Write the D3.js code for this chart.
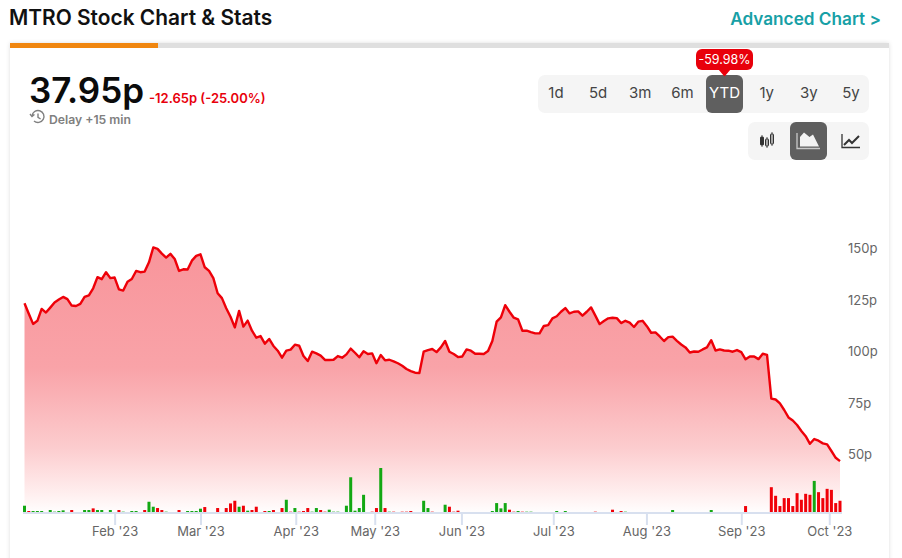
<!DOCTYPE html>
<html><head><meta charset="utf-8">
<script src="https://cdn.jsdelivr.net/npm/d3@7/dist/d3.min.js"></script>
<style>html,body{margin:0;padding:0;background:#fff}svg{display:block}text{font-family:Inter,Lato,sans-serif}</style>
</head><body><div id="c"></div>
<script>
const prices=[123.3,118.2,113.3,114.8,120.6,118.8,121.2,123.7,125.1,126.4,125.3,122.2,122,123,126.4,127.2,130.6,136,135,138.4,135.5,135.8,130.1,129.5,133.8,135.1,139,138.4,138.7,143.2,150.4,149.7,147.4,145.5,147.3,144.8,139,139.8,139.7,144,146.3,147.1,140.8,139,135.5,128.2,125.8,120.9,116.8,111.6,119.6,112,114.9,110,106.6,107.4,103.7,106,102.6,100.3,96.9,100.3,100.8,103.2,102.7,97.7,95.3,99.8,99,97.9,95.8,95.8,95.9,97.7,96.9,98.5,101.3,99.3,97.1,100,98.7,99,94.2,98.2,95.6,95.9,95.1,94.2,93,91.4,90.4,89.6,89.5,99.8,100.6,101.1,99.6,101.9,105,99.8,98.7,97.2,97.5,100.9,100.3,98.8,98.8,98.7,100.1,105,114.4,116.5,122.4,119.2,116.3,115.5,110,110,109.3,108.7,108.7,112.3,112.7,116,117,119.2,121,118.4,119.2,119.4,117.3,119.2,121.3,117.3,113.2,114.7,116,116.3,116.1,113.7,114.8,113.9,111.8,114.4,114.8,112.2,109,109.2,107.2,105,106.9,107.1,105.1,103.3,101.9,99.4,99.9,99.8,100.9,101.9,105.4,100.4,100.9,100.4,100.3,99.8,100.6,99.6,96.1,97.5,97.5,96.2,98.8,98.3,77,76.6,74.7,71.5,67.9,66.4,64.2,61.3,58.8,55.1,57.4,56.6,55.3,54.8,51.6,48.3,46.7];
// volume per session (relative units); sign: positive = up day (green), negative = down day (red), 0 = no bar
const volumes=[22,-6,6,6,6,-3,9,4,6,8,-3,-9,0,-3,9,9,-14,9,9,3,9,0,-9,4,3,6,6,3,-9,34,19,-15,-9,4,3,3,-9,0,6,6,6,13,-18,-3,-3,-15,-3,-15,-29,-37,19,-22,7,-9,-19,0,-6,6,-9,0,-15,40,-4,15,-4,-6,-15,4,15,-9,-4,10,4,4,0,22,108,7,15,55,0,-4,-15,136,-15,4,-4,0,-4,-4,-6,0,0,37,15,-4,3,3,25,-19,-4,-7,0,3,0,0,0,0,0,6,30,14,30,-10,-4,6,-4,4,4,0,0,0,0,3,6,3,6,0,0,0,0,3,0,-4,0,0,0,-10,0,-6,4,0,-3,3,3,-3,0,3,0,0,3,9,0,0,0,0,0,0,0,0,9,-3,0,0,0,0,3,0,-21,0,0,3,0,3,-78,-52,-21,-45,-45,-21,-60,-40,-58,-55,97,-63,-45,-73,-70,-30,-37];
const monthLabels=["Feb '23","Mar '23","Apr '23","May '23","Jun '23","Jul '23","Aug '23","Sep '23","Oct '23"];
const monthIndex=[21,41,63.2,81.6,101.8,123.2,144.9,167,187.5];
const priceTicks=[50,75,100,125,150];
const ranges=["1d","5d","3m","6m","YTD","1y","3y","5y"];

const svg=d3.select("#c").append("svg").attr("width",902).attr("height",558);
const defs=svg.append("defs");
const grad=defs.append("linearGradient").attr("id","af").attr("gradientUnits","userSpaceOnUse").attr("x1",0).attr("x2",0).attr("y1",248).attr("y2",514);
[[0,"#f8959b"],[.45,"#f9a3a8"],[.75,"#fcccce"],[.93,"#fff0f0"],[1,"#ffffff"]].forEach(s=>grad.append("stop").attr("offset",s[0]).attr("stop-color",s[1]));
const sh=defs.append("filter").attr("id","sh").attr("x","-3%").attr("y","-3%").attr("width","106%").attr("height","106%");
sh.append("feDropShadow").attr("dx",0).attr("dy",0).attr("stdDeviation",2.2).attr("flood-color","#000").attr("flood-opacity",.13);

svg.append("text").attr("x",9).attr("y",25).attr("font-size",20.9).attr("font-weight",600).attr("fill","#111").text("MTRO Stock Chart & Stats");
svg.append("text").attr("x",881).attr("y",25).attr("text-anchor","end").attr("font-size",17.2).attr("font-weight",600).attr("fill","#17a0a6").text("Advanced Chart >");

svg.append("rect").attr("x",10).attr("y",43).attr("width",879).attr("height",530).attr("fill","#fff").attr("filter","url(#sh)");
svg.append("rect").attr("x",10).attr("y",43).attr("width",879).attr("height",5).attr("fill","#dfdfdf");
svg.append("rect").attr("x",10).attr("y",43).attr("width",148).attr("height",5).attr("fill","#f0860f");

svg.append("text").attr("x",29).attr("y",103).attr("font-size",35).attr("font-weight",600).attr("fill","#0b0b0b").text("37.95p");
svg.append("text").attr("x",149).attr("y",103).attr("font-size",13).attr("font-weight",600).attr("fill","#e8000b").text("-12.65p (-25.00%)");
svg.append("text").attr("x",49).attr("y",124).attr("font-size",12.2).attr("font-weight",600).attr("fill","#808080").text("Delay +15 min");
const clock=svg.append("g").attr("transform","translate(38,117)").attr("fill","none").attr("stroke","#808080").attr("stroke-width",1.4);
clock.append("path").attr("d","M-6 -1 A6 6 0 1 1 -4 4");
clock.append("path").attr("d","M-8 -3 L-6 -0.5 L-3.6 -2.6");
clock.append("path").attr("d","M0 -3.5 V0.3 L2.6 2");

// range pills
svg.append("rect").attr("x",538).attr("y",75).attr("width",331).attr("height",38).attr("rx",7).attr("fill","#f5f5f5");
svg.append("rect").attr("x",706).attr("y",75).attr("width",37).attr("height",38).attr("rx",6).attr("fill","#5f5f5f");
const rangeX=d3.scalePoint().domain(ranges).range([556,851]);
svg.selectAll(".rg").data(ranges).join("text").attr("class","rg").attr("x",d=>rangeX(d)).attr("y",98).attr("text-anchor","middle")
  .attr("font-size",15).attr("fill",d=>d==="YTD"?"#fff":"#444").text(d=>d);
svg.append("path").attr("d","M718 69 L724.5 76.5 L731 69 Z").attr("fill","#e8000b");
svg.append("rect").attr("x",696).attr("y",49).attr("width",57).attr("height",21).attr("rx",6).attr("fill","#e8000b");
svg.append("text").attr("x",724.5).attr("y",64).attr("text-anchor","middle").attr("font-size",12.5).attr("fill","#fff").text("-59.98%");

// chart type pills
svg.append("rect").attr("x",748).attr("y",122).attr("width",121).attr("height",38).attr("rx",7).attr("fill","#f5f5f5");
svg.append("rect").attr("x",790).attr("y",122).attr("width",37).attr("height",38).attr("rx",6).attr("fill","#5f5f5f");
const cs=svg.append("g").attr("fill","#333").attr("stroke","#333");
[[762,137,8],[767,139,7],[772,134,10]].forEach((c,i)=>{
  cs.append("rect").attr("x",c[0]-1.5).attr("y",c[1]).attr("width",3).attr("height",c[2]).attr("rx",.6).attr("fill",i==0?"#333":"#f5f5f5").attr("stroke-width",1);
  cs.append("path").attr("d",`M${c[0]} ${c[1]-2} V${c[1]+c[2]+2}`).attr("stroke-width",.8);
});
svg.append("path").attr("d","M797 133 V148.5 H820").attr("fill","none").attr("stroke","#c8c8c8").attr("stroke-width",1.3);
svg.append("path").attr("d","M800 146.5 V137 L804 132.5 L809.5 137 L813 134.5 L819 146.5 Z").attr("fill","#f3f3f3");
svg.append("path").attr("d","M842 134 V147.5 H860").attr("fill","none").attr("stroke","#333").attr("stroke-width",1.3);
svg.append("path").attr("d","M844 145 L849 140 L852 143 L859 136").attr("fill","none").attr("stroke","#333").attr("stroke-width",2);

// chart
const x=d3.scaleLinear().domain([0,prices.length-1]).range([24.5,840]);
const y=d3.scaleLinear().domain([50,150]).range([454.3,248.3]);
const baseY=513;
const vy=d3.scaleLinear().domain([0,136]).range([baseY,468]);
const area=d3.area().x((d,i)=>x(i)).y0(baseY).y1(d=>y(d));
const line=d3.line().x((d,i)=>x(i)).y(d=>y(d));
svg.append("path").datum(prices).attr("d",area).attr("fill","url(#af)");
svg.append("path").datum(prices).attr("d",line).attr("fill","none").attr("stroke","#ee0009").attr("stroke-width",2.4).attr("stroke-linejoin","round");

svg.selectAll(".v").data(volumes.map((v,i)=>({v,i})).filter(d=>d.v!==0)).join("rect").attr("class","v")
  .attr("x",d=>x(d.i)-1.5).attr("width",3)
  .attr("y",d=>vy(Math.abs(d.v))).attr("height",d=>baseY-vy(Math.abs(d.v)))
  .attr("fill",d=>d.v>0?"#13a813":"#f00008");

const xAxis=d3.axisBottom(x).tickValues(monthIndex).tickFormat((d,i)=>monthLabels[i]).tickSize(12).tickPadding(2);
const gx=svg.append("g").attr("transform",`translate(0,${baseY})`).call(xAxis);
gx.select(".domain").attr("stroke","#d8e0ef").attr("stroke-width",2).attr("d","M23 0 H842");
gx.selectAll(".tick line").attr("stroke","#d8e0ef").attr("stroke-width",2);
gx.selectAll(".tick text").attr("font-size",13).attr("fill","#666").attr("font-family","Inter,sans-serif");

const yAxis=d3.axisRight(y).tickValues(priceTicks).tickFormat(d=>d+"p").tickSize(0).tickPadding(0);
const gy=svg.append("g").attr("transform","translate(848,0.5)").call(yAxis);
gy.select(".domain").remove();
gy.selectAll(".tick text").attr("font-size",13).attr("fill","#666").attr("font-family","Inter,sans-serif");
</script></body></html>
